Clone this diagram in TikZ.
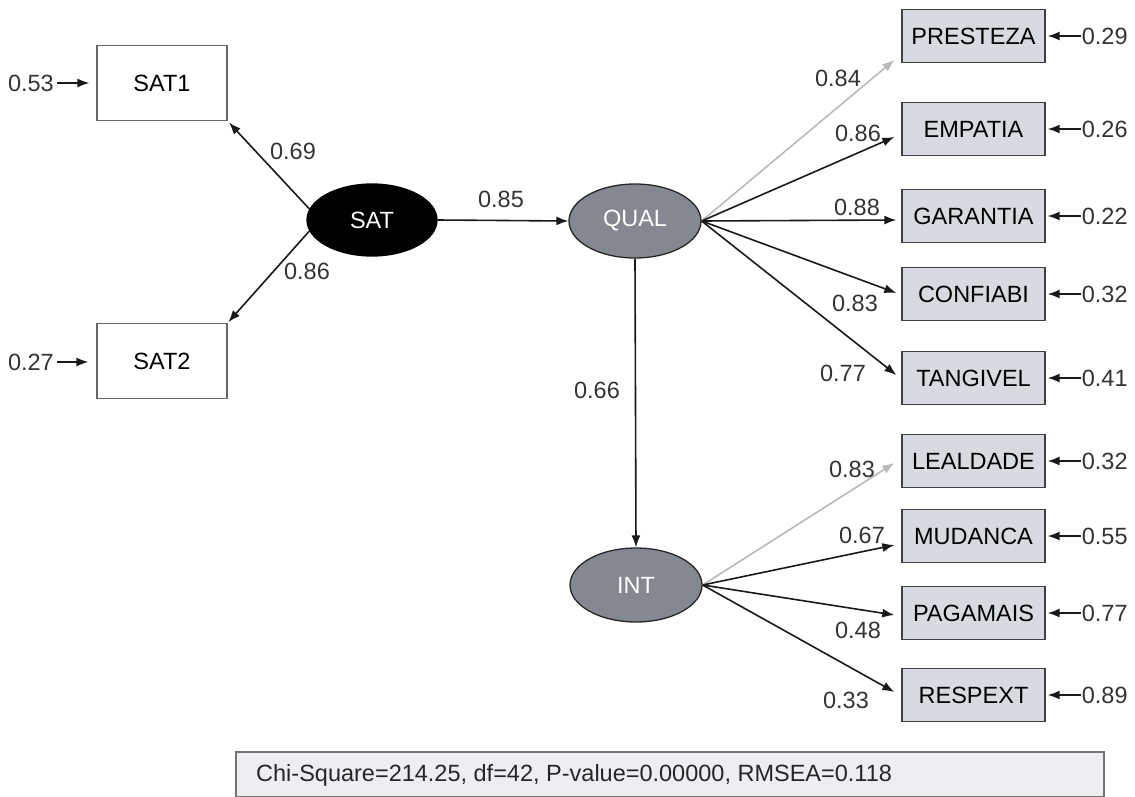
\documentclass[tikz,border=0pt]{standalone}
\usepackage{fontspec}
\setmainfont{Liberation Sans}
\usetikzlibrary{arrows.meta,calc,shapes.geometric}
\definecolor{boxfill}{RGB}{215,219,225}
\definecolor{latgray}{RGB}{132,136,144}
\definecolor{footfill}{RGB}{236,238,242}
\definecolor{faintgray}{RGB}{185,185,185}
\begin{document}
\begin{tikzpicture}[x=1pt,y=-1pt,
  font=\fontsize{23.5}{27}\selectfont,
  obsbox/.style={draw=black!75, line width=1.3pt, fill=boxfill, minimum width=143pt, minimum height=53pt, inner sep=0pt},
  satbox/.style={draw=black!60, line width=1.2pt, fill=white, minimum width=130pt, minimum height=75pt, inner sep=0pt},
  latent/.style={ellipse, draw=black!85, line width=1.3pt, fill=latgray, text=white, minimum width=132pt, minimum height=74pt, inner sep=0pt},
  arr/.style={-{Latex[length=12pt,width=9pt]}, line width=1.6pt, draw=black!90},
  faint/.style={-{Latex[length=12pt,width=9pt]}, line width=1.6pt, draw=faintgray},
  lbl/.style={inner sep=0pt, text=black!80}
]
\useasboundingbox (0,0) rectangle (1135,797);

% observed boxes left
\node[satbox] (SAT1) at (162,83) {SAT1};
\node[satbox] (SAT2) at (162,361) {SAT2};

% latent variables
\node[latent, fill=black, draw=black, minimum width=130pt, minimum height=72pt] (SAT) at (372,220) {SAT};
\node[latent] (QUAL) at (635,221) {QUAL};
\node[latent] (INT) at (636,585) {INT};

% observed boxes right
\node[obsbox] (PRESTEZA) at (973.5,36) {PRESTEZA};
\node[obsbox] (EMPATIA) at (973.5,129) {EMPATIA};
\node[obsbox] (GARANTIA) at (973.5,216) {GARANTIA};
\node[obsbox] (CONFIABI) at (973.5,294) {CONFIABI};
\node[obsbox] (TANGIVEL) at (973.5,378) {TANGIVEL};
\node[obsbox] (LEALDADE) at (973.5,461) {LEALDADE};
\node[obsbox] (MUDANCA) at (973.5,536) {MUDANCA};
\node[obsbox] (PAGAMAIS) at (973.5,613) {PAGAMAIS};
\node[obsbox] (RESPEXT) at (973.5,695) {RESPEXT};

% error terms left
\node[lbl, anchor=east] (e1) at (54,83) {0.53};
\node[lbl, anchor=east] (e2) at (54,362) {0.27};
\draw[arr, shorten <=3pt, shorten >=7pt] (e1.east) -- (SAT1.west);
\draw[arr, shorten <=3pt, shorten >=8pt] (e2.east) -- (e2.east -| SAT2.west);

% error terms right
\foreach \b/\v/\n in {PRESTEZA/0.29/r1, EMPATIA/0.26/r2, GARANTIA/0.22/r3, CONFIABI/0.32/r4, TANGIVEL/0.41/r5, LEALDADE/0.32/r6, MUDANCA/0.55/r7, PAGAMAIS/0.77/r8, RESPEXT/0.89/r9}{
  \node[lbl, anchor=west] (\n) at ($(\b.east)+(36,0)$) {\v};
  \draw[arr, shorten <=1pt, shorten >=2pt] (\n.west) -- (\b.east);
}

% SAT paths
\draw[arr, shorten >=2pt] (SAT.170) -- (SAT1.south east);
\draw[arr, shorten >=1pt] (SAT.190) -- (SAT2.north east);
\draw[arr] (SAT.east) -- (QUAL.west);
\draw[arr] (QUAL.south) -- (INT.north);

% QUAL loadings
\draw[faint] (QUAL.east) -- ($(PRESTEZA.west)+(-7,24)$);
\draw[arr] (QUAL.east) -- ($(EMPATIA.west)+(-7,8)$);
\draw[arr] (QUAL.east) -- ($(GARANTIA.west)+(-5,4)$);
\draw[arr] (QUAL.east) -- ($(CONFIABI.west)+(-5,-1)$);
\draw[arr] (QUAL.east) -- ($(TANGIVEL.west)+(-5,-3)$);

% INT loadings
\draw[faint] (INT.east) -- ($(LEALDADE.west)+(-7,2)$);
\draw[arr] (INT.east) -- ($(MUDANCA.west)+(-7,9)$);
\draw[arr] (INT.east) -- ($(PAGAMAIS.west)+(-7,2)$);
\draw[arr] (INT.east) -- ($(RESPEXT.west)+(-7,-3)$);

% path labels
\node[lbl] (l1) at (293,151) {0.69};
\node[lbl] (l2) at (307,271) {0.86};
\node[lbl] (l3) at (501,199) {0.85};
\node[lbl] (l4) at (597,390) {0.66};
\node[lbl] (l5) at (838,78) {0.84};
\node[lbl] (l6) at (858,133) {0.86};
\node[lbl] (l7) at (857,207) {0.88};
\node[lbl] (l8) at (855,303) {0.83};
\node[lbl] (l9) at (843,373) {0.77};
\node[lbl] (l10) at (852,469) {0.83};
\node[lbl] (l11) at (862,535) {0.67};
\node[lbl] (l12) at (858,630) {0.48};
\node[lbl] (l13) at (846,700) {0.33};

% footer
\draw[draw=black!55, line width=1.2pt, fill=footfill] (236,752) rectangle (1104,796.5);
\node[lbl, anchor=west, text=black!85] (fit) at (256,775) {Chi-Square=214.25, df=42, P-value=0.00000, RMSEA=0.118};
\end{tikzpicture}
\end{document}
